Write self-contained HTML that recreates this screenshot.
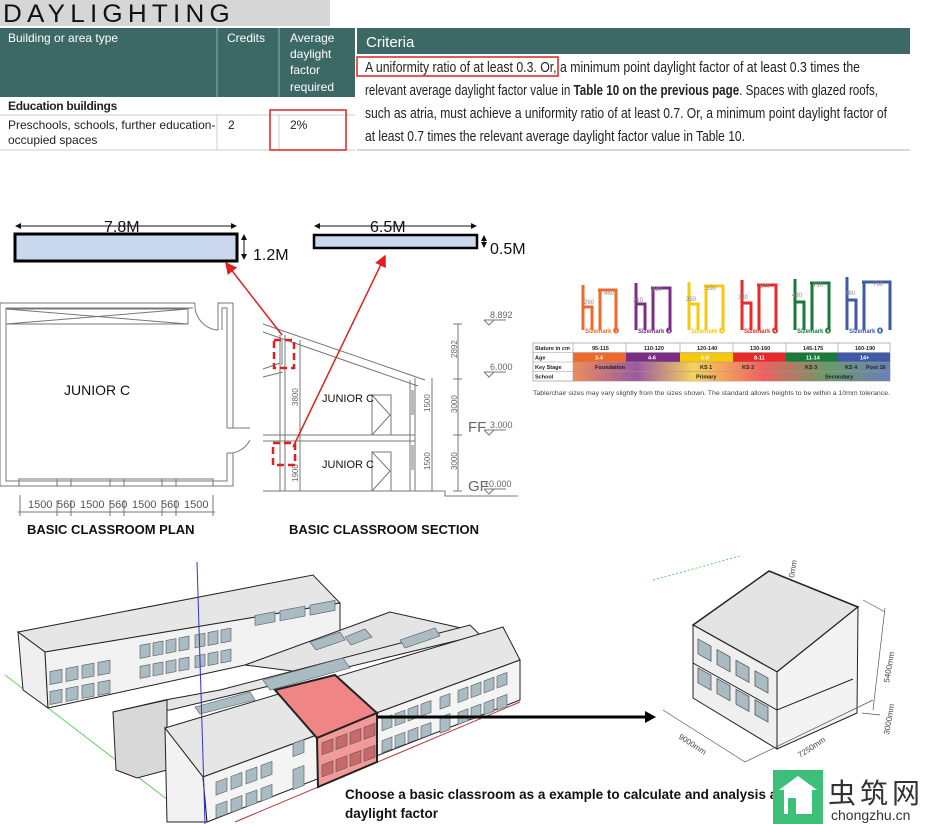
<!DOCTYPE html>
<html><head><meta charset="utf-8"><style>
html,body{margin:0;padding:0;background:#fff;}
svg{display:block;}
text{font-family:"Liberation Sans","Noto Sans CJK SC",sans-serif;}
</style></head><body>
<svg width="926" height="824" viewBox="0 0 926 824" xmlns="http://www.w3.org/2000/svg">
<!-- header -->
<rect x="0" y="0" width="330" height="26" fill="#d6d6d6"/>
<text x="3" y="22" font-size="25" letter-spacing="5" fill="#111" textLength="232" lengthAdjust="spacingAndGlyphs">DAYLIGHTING</text>
<!-- table -->
<rect x="0" y="28" width="355" height="69" fill="#3c6966"/>
<line x1="217" y1="28" x2="217" y2="97" stroke="#8fb0ad" stroke-width="1"/>
<line x1="279" y1="28" x2="279" y2="97" stroke="#8fb0ad" stroke-width="1"/>
<g fill="#fff" font-size="12">
<text x="8" y="42">Building or area type</text>
<text x="227" y="42">Credits</text>
<text x="290" y="42">Average</text><text x="290" y="58">daylight</text><text x="290" y="74">factor</text><text x="290" y="91">required</text>
</g>
<g fill="#222" font-size="12">
<text x="8" y="110" font-weight="bold" letter-spacing="-0.3">Education buildings</text>
<text x="8" y="129">Preschools, schools, further education-</text>
<text x="8" y="144">occupied spaces</text>
<text x="228" y="129">2</text>
<text x="290" y="129">2%</text>
</g>
<line x1="0" y1="115" x2="355" y2="115" stroke="#ccc"/>
<line x1="0" y1="150" x2="355" y2="150" stroke="#ccc"/>
<line x1="217" y1="115" x2="217" y2="150" stroke="#ccc"/>
<line x1="279" y1="115" x2="279" y2="150" stroke="#ccc"/>
<rect x="270" y="110" width="76" height="40" fill="none" stroke="#e02020" stroke-width="1.5"/>
<!-- criteria -->
<rect x="357" y="28" width="553" height="26" fill="#3c6966"/>
<text x="366" y="47" font-size="15" fill="#fff">Criteria</text>
<g font-size="15" fill="#222">
<text x="365" y="72" textLength="495" lengthAdjust="spacingAndGlyphs">A uniformity ratio of at least 0.3. Or, a minimum point daylight factor of at least 0.3 times the</text>
<text x="365" y="95" textLength="513" lengthAdjust="spacingAndGlyphs">relevant average daylight factor value in <tspan font-weight="bold">Table 10 on the previous page</tspan>. Spaces with glazed roofs,</text>
<text x="365" y="118" textLength="522" lengthAdjust="spacingAndGlyphs">such as atria, must achieve a uniformity ratio of at least 0.7. Or, a minimum point daylight factor of</text>
<text x="365" y="141" textLength="380" lengthAdjust="spacingAndGlyphs">at least 0.7 times the relevant average daylight factor value in Table 10.</text>
</g>
<rect x="357" y="57" width="201" height="19" fill="none" stroke="#e02020" stroke-width="1.5"/>
<line x1="357" y1="150" x2="910" y2="150" stroke="#ccc" stroke-width="1.5"/>

<!-- dimension windows -->
<defs>
<marker id="ar" markerWidth="8" markerHeight="8" refX="7" refY="4" orient="auto"><path d="M0,0 L8,4 L0,8 z" fill="#e02020"/></marker>
<marker id="ab" markerWidth="6" markerHeight="6" refX="5" refY="3" orient="auto"><path d="M0,0 L6,3 L0,6 z" fill="#111"/></marker>
<marker id="ab2" markerWidth="6" markerHeight="6" refX="1" refY="3" orient="auto"><path d="M6,0 L0,3 L6,6 z" fill="#111"/></marker>
</defs>
<rect x="15" y="234" width="222" height="27" fill="#c9d8ec" stroke="#000" stroke-width="3"/>
<line x1="16" y1="226" x2="236" y2="226" stroke="#111" marker-end="url(#ab)" marker-start="url(#ab2)"/>
<text x="104" y="232" font-size="16" fill="#111">7.8M</text>
<line x1="244" y1="235" x2="244" y2="259" stroke="#111" marker-end="url(#ab)" marker-start="url(#ab2)"/>
<text x="253" y="260" font-size="16" fill="#111">1.2M</text>
<rect x="314" y="235" width="163" height="13" fill="#c9d8ec" stroke="#000" stroke-width="2.5"/>
<line x1="315" y1="226" x2="476" y2="226" stroke="#111" marker-end="url(#ab)" marker-start="url(#ab2)"/>
<text x="370" y="232" font-size="16" fill="#111">6.5M</text>
<line x1="484" y1="236" x2="484" y2="247" stroke="#111" marker-end="url(#ab)" marker-start="url(#ab2)"/>
<text x="490" y="254" font-size="16" fill="#111">0.5M</text>

<!-- plan -->
<g fill="none" stroke="#777" stroke-width="1">
<path d="M0,303 H195 M0,303 V486 H233 V453 M233,428 V303 H218 V330"/>
<path d="M6,308 H193 M6,308 V481 H227 V453 M227,428 V308 H222 V330"/>
<rect x="6" y="309" width="182" height="15"/>
<path d="M6,309 L188,324 M6,324 L188,309"/>
<path d="M195,303 A25,25 0 0 0 218,330"/>
<path d="M233,453 A25,25 0 0 0 250,440"/>
<path d="M227,428 H250 M227,453 H233"/>
<rect x="19" y="479" width="194" height="7"/>
<path d="M57,479 V486 M71,479 V486 M110,479 V486 M124,479 V486 M162,479 V486 M176,479 V486"/>
<path d="M20,495 V516 M57,500 V516 M71,500 V516 M110,500 V516 M124,500 V516 M162,500 V516 M176,500 V516 M213,495 V516 M18,512 H215"/>
</g>
<text x="64" y="395" font-size="14" fill="#111">JUNIOR C</text>
<g font-size="11" fill="#555"><text x="28" y="508">1500</text><text x="57" y="508">560</text><text x="80" y="508">1500</text><text x="109" y="508">560</text><text x="132" y="508">1500</text><text x="161" y="508">560</text><text x="184" y="508">1500</text></g>
<text x="27" y="534" font-size="13" font-weight="bold" fill="#111">BASIC CLASSROOM PLAN</text>

<!-- section -->
<g fill="none" stroke="#777" stroke-width="1">
<path d="M263,324 L425,380 M263,332 L418,386 M263,369 L283,362 M263,377 L283,372"/>
<path d="M280,335 V491 M285,335 V491 M300,340 V491"/>
<path d="M410,380 V491 M415,378 V491 M432,378 V491"/>
<path d="M263,435 H415 M263,441 H415"/>
<path d="M263,491 H445 V496 H518"/>
<path d="M458,324 V491 M453,324 H462 M453,379 H462 M453,435 H462 M453,491 H462"/>
<rect x="372" y="395" width="19" height="40"/><path d="M372,395 L390,415 L372,435"/>
<rect x="372" y="452" width="19" height="39"/><path d="M372,452 L390,471 L372,491"/>
<path d="M484,320 h22 M484,320 l5,5 l5,-5 M484,372 h22 M484,372 l5,5 l5,-5 M484,430 h22 M484,430 l5,5 l5,-5 M484,489 h22 M484,489 l5,5 l5,-5"/>
</g>
<rect x="280" y="340" width="3" height="25" fill="#bbb"/><rect x="410" y="390" width="4" height="25" fill="#bbb"/><rect x="410" y="445" width="4" height="25" fill="#bbb"/>
<g font-size="9" fill="#666">
<text x="490" y="318">8.892</text><text x="490" y="370">6.000</text><text x="490" y="428">3.000</text><text x="484" y="487">±0.000</text>
</g>
<text x="468" y="432" font-size="15" font-family="Liberation Serif" fill="#666">FF</text>
<text x="468" y="491" font-size="15" font-family="Liberation Serif" fill="#666">GF</text>
<g font-size="8" fill="#666">
<text transform="translate(457,358) rotate(-90)">2892</text>
<text transform="translate(457,413) rotate(-90)">3000</text>
<text transform="translate(457,470) rotate(-90)">3000</text>
<text transform="translate(298,406) rotate(-90)">3800</text>
<text transform="translate(298,482) rotate(-90)">1900</text>
<text transform="translate(430,412) rotate(-90)">1500</text>
<text transform="translate(430,470) rotate(-90)">1500</text>
</g>
<text x="322" y="402" font-size="11" fill="#111">JUNIOR C</text>
<text x="322" y="468" font-size="11" fill="#111">JUNIOR C</text>
<g fill="none" stroke="#e02020" stroke-width="2.5" stroke-dasharray="7,4">
<rect x="274" y="340" width="20" height="28"/>
<rect x="273" y="443" width="22" height="22"/>
</g>
<line x1="282" y1="335" x2="226" y2="263" stroke="#e02020" stroke-width="1.5" marker-end="url(#ar)"/>
<line x1="293" y1="447" x2="385" y2="256" stroke="#e02020" stroke-width="1.5" marker-end="url(#ar)"/>
<text x="289" y="534" font-size="13" font-weight="bold" fill="#111">BASIC CLASSROOM SECTION</text>

<!-- chairs -->
<g fill="none" stroke-width="3">
<path d="M583,285 V330 M583,307 H592 V330 M598,290 H616 V330 M600,290 V330" stroke="#ef6a2a"/>
<path d="M636,283 V330 M636,304 H645 V330 M651,288 H670 V330 M653,288 V330" stroke="#7b2e86"/>
<path d="M689,282 V330 M689,304 H698 V330 M704,286 H723 V330 M706,286 V330" stroke="#f6c90e"/>
<path d="M742,280 V330 M742,303 H751 V330 M757,285 H776 V330 M759,285 V330" stroke="#e82a2a"/>
<path d="M795,279 V330 M795,302 H804 V330 M810,283 H829 V330 M812,283 V330" stroke="#1b7a3a"/>
<path d="M847,277 V330 M847,300 H856 V330 M862,282 H890 V330 M864,282 V330" stroke="#3e5aa8"/>
</g>
<g font-size="6" fill="#888"><text x="584" y="304">260</text><text x="604" y="295">460</text><text x="633" y="302">210</text><text x="652" y="291">530</text><text x="686" y="301">350</text><text x="706" y="290">590</text><text x="738" y="299">380</text><text x="760" y="288">640</text><text x="792" y="297">430</text><text x="813" y="287">710</text><text x="845" y="295">460</text><text x="873" y="286">760</text></g>
<g font-size="6" font-weight="bold"><text x="585" y="333" fill="#ef6a2a">Sizemark ❶</text><text x="638" y="333" fill="#7b2e86">Sizemark ❷</text><text x="691" y="333" fill="#f6c90e">Sizemark ❸</text><text x="744" y="333" fill="#e82a2a">Sizemark ❹</text><text x="797" y="333" fill="#1b7a3a">Sizemark ❺</text><text x="849" y="333" fill="#3e5aa8">Sizemark ❻</text></g>
<defs><linearGradient id="ks" x1="0" x2="1"><stop offset="0" stop-color="#ef8c5a"/><stop offset="0.2" stop-color="#9b5aa0"/><stop offset="0.38" stop-color="#f7d25a"/><stop offset="0.6" stop-color="#ef6060"/><stop offset="0.8" stop-color="#6a9a6a"/><stop offset="1" stop-color="#6a7fb8"/></linearGradient></defs>
<rect x="533" y="343" width="357" height="38" fill="#fff" stroke="#999" stroke-width="0.7"/>
<rect x="573" y="352.5" width="53" height="9.5" fill="#ef6a2a"/><rect x="626" y="352.5" width="54" height="9.5" fill="#7b2e86"/><rect x="680" y="352.5" width="53" height="9.5" fill="#f6c90e"/><rect x="733" y="352.5" width="53" height="9.5" fill="#e82a2a"/><rect x="786" y="352.5" width="52" height="9.5" fill="#1b7a3a"/><rect x="838" y="352.5" width="52" height="9.5" fill="#3e5aa8"/>
<rect x="573" y="362" width="317" height="19" fill="url(#ks)"/>
<g stroke="#999" stroke-width="0.6"><path d="M533,352.5 H890 M533,362 H890 M533,371.5 H890 M573,343 V381 M626,343 V352.5 M680,343 V352.5 M733,343 V352.5 M786,343 V352.5 M838,343 V352.5"/></g>
<g font-size="5.5" fill="#222" font-weight="bold"><text x="535" y="350">Stature in cm</text><text x="535" y="359.5">Age</text><text x="535" y="369">Key Stage</text><text x="535" y="378.5">School</text>
<text x="592" y="350">95-115</text><text x="644" y="350">110-120</text><text x="697" y="350">120-140</text><text x="750" y="350">130-160</text><text x="803" y="350">145-175</text><text x="855" y="350">160-190</text>
<text x="595" y="369">Foundation</text><text x="700" y="369">KS 1</text><text x="742" y="369">KS 2</text><text x="805" y="369">KS 3</text><text x="845" y="369">KS 4</text><text x="866" y="369">Post 16</text>
<text x="696" y="378.5">Primary</text><text x="825" y="378.5">Secondary</text></g>
<g font-size="5.5" fill="#fff" font-weight="bold"><text x="595" y="359.5">3-4</text><text x="648" y="359.5">4-6</text><text x="701" y="359.5">6-8</text><text x="754" y="359.5">8-11</text><text x="806" y="359.5">11-14</text><text x="860" y="359.5">14+</text></g>
<text x="533" y="395" font-size="6" fill="#444" textLength="357" lengthAdjust="spacingAndGlyphs">Table/chair sizes may vary slightly from the sizes shown. The standard allows heights to be within a 10mm tolerance.</text>

<!-- 3D campus -->
<line x1="5" y1="675" x2="168" y2="800" stroke="#6c6" stroke-width="1"/>
<line x1="235" y1="822" x2="520" y2="702" stroke="#b33" stroke-width="1"/>
<g stroke="#222" stroke-width="1">
<polygon points="18,632 313,575 340,603 45,652" fill="#e6e6e6"/>
<polygon points="18,632 45,652 48,708 23,690" fill="#efefef"/>
<polygon points="45,652 340,603 340,642 245,665 48,708" fill="#f2f2f2"/>
<polygon points="245,665 390,612 470,630 300,672" fill="#e4e4e4"/>
<polygon points="113,712 165,700 220,690 470,625 480,635 170,710" fill="#e6e6e6"/>
<polygon points="113,712 167,700 167,770 137,778 116,770" fill="#d8d8d8"/>
<polygon points="165,728 503,627 520,660 203,777" fill="#e6e6e6"/>
<polygon points="165,728 203,777 207,822 167,822" fill="#f2f2f2"/>
<polygon points="203,777 520,660 520,700 207,822" fill="#f4f4f4"/>
<polygon points="275,690 335,675 377,713 317,738" fill="#ef8585" stroke-width="2"/>
<polygon points="317,738 377,713 377,762 318,787" fill="#f29a9a" stroke-width="2"/>
</g>
<g fill="#a9bcc4" stroke="#555" stroke-width="0.6">
<g transform="matrix(1,-0.19,0,1,0,0)">
<rect x="50" y="681" width="12" height="13"/><rect x="66" y="681" width="12" height="13"/><rect x="82" y="681" width="12" height="13"/><rect x="98" y="681" width="12" height="13"/>
<rect x="50" y="701" width="12" height="13"/><rect x="66" y="701" width="12" height="13"/><rect x="82" y="701" width="12" height="13"/><rect x="98" y="701" width="12" height="13"/>
<rect x="140" y="672" width="10" height="13"/><rect x="153" y="672" width="10" height="13"/><rect x="166" y="672" width="10" height="13"/><rect x="179" y="672" width="10" height="13"/><rect x="195" y="672" width="10" height="13"/><rect x="208" y="672" width="10" height="13"/><rect x="221" y="672" width="10" height="13"/>
<rect x="140" y="693" width="10" height="12"/><rect x="153" y="693" width="10" height="12"/><rect x="166" y="693" width="10" height="12"/><rect x="179" y="693" width="10" height="12"/><rect x="195" y="693" width="10" height="12"/><rect x="208" y="693" width="10" height="12"/><rect x="221" y="693" width="10" height="12"/>
<rect x="255" y="664" width="20" height="10"/><rect x="280" y="664" width="25" height="10"/><rect x="310" y="664" width="25" height="10"/>
</g>
<g transform="matrix(1,-0.37,0,1,0,0)">
<rect x="216" y="862" width="11" height="13"/><rect x="231" y="862" width="11" height="13"/><rect x="246" y="862" width="11" height="13"/><rect x="261" y="862" width="11" height="13"/><rect x="293" y="852" width="11" height="13"/>
<rect x="216" y="885" width="11" height="13"/><rect x="231" y="885" width="11" height="13"/><rect x="246" y="885" width="11" height="13"/><rect x="261" y="885" width="11" height="13"/><rect x="293" y="878" width="11" height="20"/>
<rect x="322" y="862" width="11" height="12" fill="#c86a6a"/><rect x="336" y="862" width="11" height="12" fill="#c86a6a"/><rect x="350" y="862" width="11" height="12" fill="#c86a6a"/><rect x="364" y="862" width="11" height="12" fill="#c86a6a"/>
<rect x="322" y="884" width="11" height="12" fill="#c86a6a"/><rect x="336" y="884" width="11" height="12" fill="#c86a6a"/><rect x="350" y="884" width="11" height="12" fill="#c86a6a"/><rect x="364" y="884" width="11" height="12" fill="#c86a6a"/>
<rect x="382" y="860" width="10" height="12"/><rect x="395" y="860" width="10" height="12"/><rect x="408" y="860" width="10" height="12"/><rect x="421" y="860" width="10" height="12"/><rect x="440" y="860" width="10" height="12"/><rect x="458" y="860" width="10" height="12"/><rect x="471" y="860" width="10" height="12"/><rect x="484" y="860" width="10" height="12"/><rect x="497" y="860" width="10" height="12"/>
<rect x="382" y="882" width="10" height="12"/><rect x="395" y="882" width="10" height="12"/><rect x="408" y="882" width="10" height="12"/><rect x="421" y="882" width="10" height="12"/><rect x="440" y="880" width="10" height="16"/><rect x="458" y="882" width="10" height="12"/><rect x="471" y="882" width="10" height="12"/><rect x="484" y="882" width="10" height="12"/><rect x="497" y="882" width="10" height="12"/>
</g>
<polygon points="263,680 343,658 350,668 270,690"/>
<polygon points="195,707 250,692 255,700 200,714"/>
<polygon points="310,642 340,632 345,640 316,650"/>
<polygon points="345,637 365,629 372,637 351,645"/>
<polygon points="400,640 435,628 440,636 405,648"/>
</g>
<line x1="197" y1="562" x2="205" y2="824" stroke="#33c" stroke-width="1"/>
<line x1="378" y1="717" x2="648" y2="717" stroke="#000" stroke-width="3"/>
<polygon points="645,711 656,717 645,723" fill="#000"/>

<!-- single classroom -->
<line x1="653" y1="580" x2="740" y2="556" stroke="#6c6" stroke-dasharray="2,2"/>
<g stroke="#222" stroke-width="1">
<polygon points="693,625 769,571 858,607 777,672" fill="#e4e4e4" stroke-width="1.5"/>
<polygon points="693,625 777,672 777,749 693,698" fill="#efefef"/>
<polygon points="777,672 858,607 857,713 777,749" fill="#f3f3f3"/>
<path d="M693,663 L777,710 L853,679" fill="none"/>
</g>
<g fill="#a9bcc4" stroke="#444" stroke-width="0.7" transform="matrix(1,0.56,0,1,0,0)">
<rect x="698" y="248" width="13" height="15"/><rect x="717" y="248" width="13" height="15"/><rect x="736" y="248" width="13" height="15"/><rect x="755" y="248" width="13" height="15"/>
<rect x="698" y="277" width="13" height="15"/><rect x="717" y="277" width="13" height="15"/><rect x="736" y="277" width="13" height="15"/><rect x="755" y="277" width="13" height="15"/>
</g>
<g stroke="#555" stroke-width="0.7" fill="none"><path d="M663,710 L745,762 L873,700 M885,608 L873,710 M863,600 L885,612 M862,713 L880,715"/></g>
<g font-size="8" fill="#444">
<text transform="translate(678,738) rotate(33)">9000mm</text>
<text transform="translate(800,758) rotate(-33)">7250mm</text>
<text transform="translate(889,683) rotate(-80)">5400mm</text>
<text transform="translate(889,735) rotate(-80)">3000mm</text>
<text transform="translate(794,578) rotate(-80)">0mm</text>
</g>

<text x="345" y="799" font-size="13.5" font-weight="bold" fill="#111">Choose a basic classroom as a example to calculate and analysis average</text>
<text x="345" y="818" font-size="13.5" font-weight="bold" fill="#111">daylight factor</text>

<!-- logo -->
<rect x="773" y="770" width="50" height="54" fill="#3dbf7a"/>
<polygon points="779,790 798,776 817,790" fill="#fff"/>
<rect x="784" y="790" width="28" height="24" fill="#fff"/>
<rect x="788" y="798" width="8" height="16" fill="#3dbf7a"/>
<text x="828" y="803" font-size="28" font-family="Noto Serif CJK SC, serif" fill="#333" letter-spacing="4">虫筑网</text>
<text x="831" y="820" font-size="14" font-family="Liberation Serif" fill="#333">chongzhu.cn</text>
</svg>
</body></html>
